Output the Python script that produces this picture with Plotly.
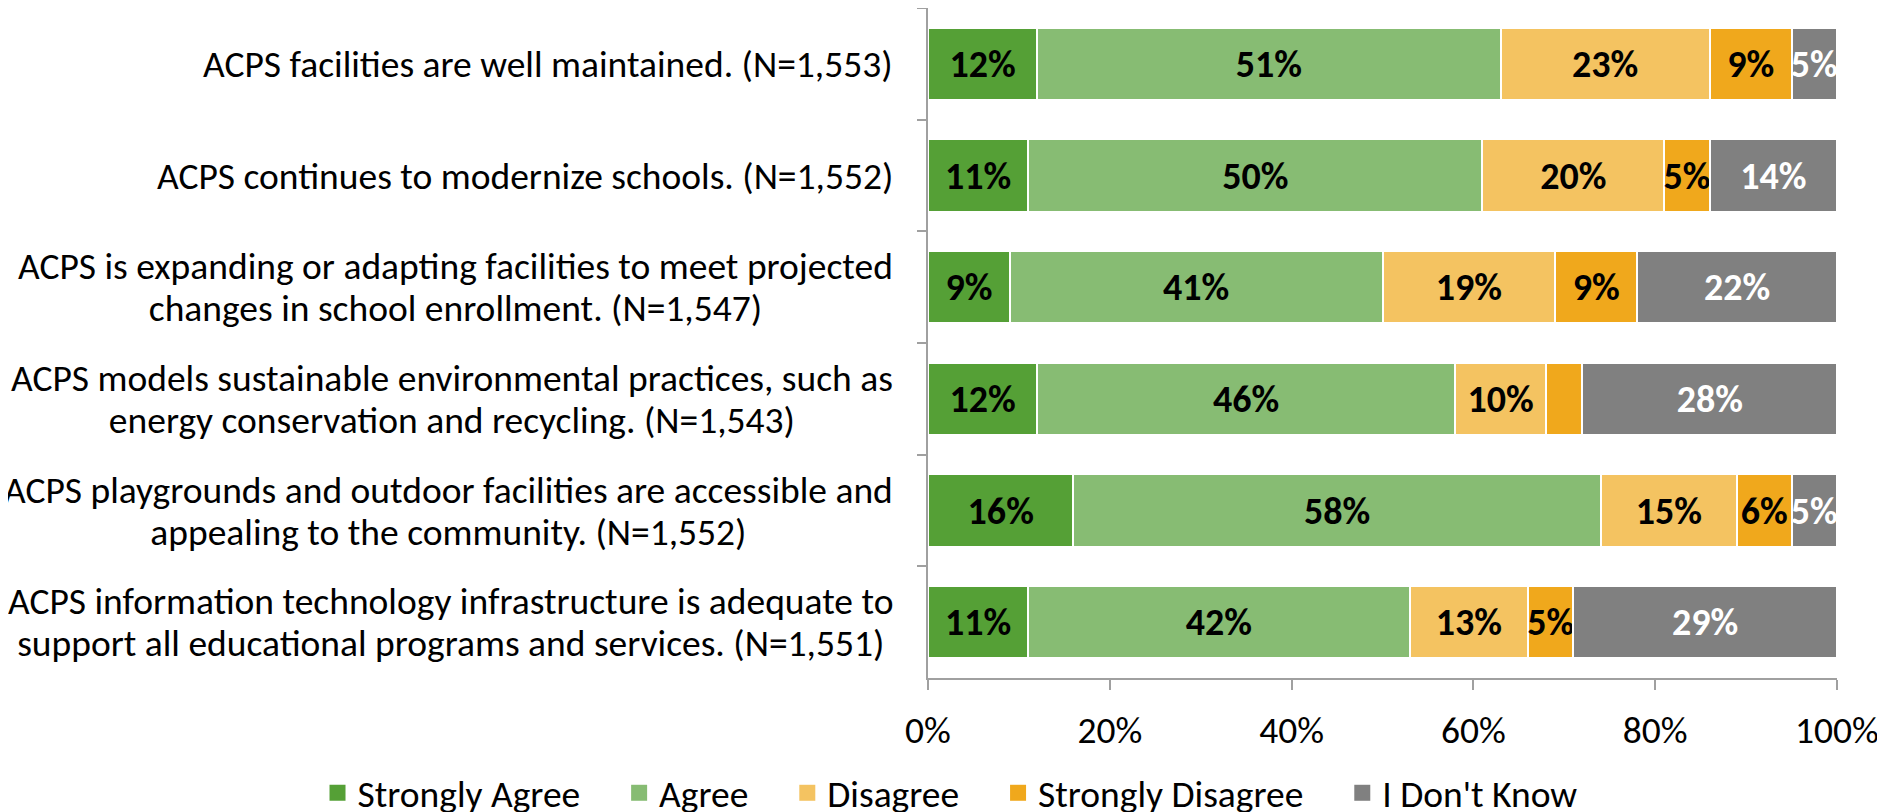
import plotly.graph_objects as go

categories = [
    "ACPS facilities are well maintained. (N=1,553)",
    "ACPS continues to modernize schools. (N=1,552)",
    "ACPS is expanding or adapting facilities to meet projected<br>changes in school enrollment. (N=1,547)",
    "ACPS models sustainable environmental practices, such as<br>energy conservation and recycling. (N=1,543)",
    "ACPS playgrounds and outdoor facilities are accessible and<br>appealing to the community. (N=1,552)",
    "ACPS information technology infrastructure is adequate to<br>support all educational programs and services. (N=1,551)",
]
series_names = ["Strongly Agree", "Agree", "Disagree", "Strongly Disagree", "I Don't Know"]
strongly_agree = [12, 11, 9, 12, 16, 11]
agree = [51, 50, 41, 46, 58, 42]
disagree = [23, 20, 19, 10, 15, 13]
strongly_disagree = [9, 5, 9, 4, 6, 5]
dont_know = [5, 14, 22, 28, 5, 29]
tick_vals = [0, 20, 40, 60, 80, 100]
tick_text = ["0%", "20%", "40%", "60%", "80%", "100%"]
# label not shown on the bar in the reference (row 4 "Strongly Disagree")
hidden_labels = {("Strongly Disagree", 3)}

series_values = [strongly_agree, agree, disagree, strongly_disagree, dont_know]
colors = ["#55A036", "#87BC73", "#F4C361", "#F0A81C", "#808080"]
label_colors = ["black", "black", "black", "black", "white"]

FONT = "Carlito, Lato, sans-serif"
FS = 37.5
PAD = "\u00a0\u00a0\u00a0\u00a0"

fig = go.Figure()
for name, vals, col, lc in zip(series_names, series_values, colors, label_colors):
    texts = ["" if (name, i) in hidden_labels else f"{v}%" for i, v in enumerate(vals)]
    fig.add_trace(go.Bar(
        name=name, y=categories, x=vals, orientation="h",
        marker=dict(color=col, line=dict(color="white", width=2)),
        text=texts, textposition="inside", insidetextanchor="middle",
        textangle=0, constraintext="none",
        textfont=dict(family=FONT, size=38, color=lc, weight="bold"),
        hoverinfo="skip", showlegend=False,
    ))

# legend entries (square swatches)
for k, (name, col) in enumerate(zip(series_names, colors)):
    label = name + (PAD if k < len(series_names) - 1 else "")
    fig.add_trace(go.Scatter(
        name=label, x=[None], y=[None], mode="markers",
        marker=dict(symbol="square", size=16, color=col, line=dict(width=0)),
        showlegend=True, hoverinfo="skip",
    ))

for c in categories:
    lines = c.split("<br>")
    txt = "<br>".join(f'<span style="font-size:{FS}px">{ln}</span>' for ln in lines)
    fig.add_annotation(
        x=0, xref="paper", y=c, yref="y", text=txt, showarrow=False,
        xanchor="right", yanchor="middle", align="center", xshift=-33,
        font=dict(family=FONT, size=32, color="black"),
    )

fig.update_layout(
    barmode="stack", bargap=0.35,
    width=1877, height=804,
    margin=dict(l=920, r=48, t=0, b=134, autoexpand=False),
    plot_bgcolor="white", paper_bgcolor="white",
    font=dict(family=FONT, size=FS, color="black"),
    showlegend=True,
    legend=dict(
        orientation="h", xref="paper", yref="paper",
        x=-0.6716, xanchor="left", y=-0.1715, yanchor="middle",
        font=dict(family=FONT, size=FS, color="black"),
        traceorder="normal", itemwidth=30, itemsizing="trace",
        bgcolor="rgba(0,0,0,0)",
    ),
)
fig.update_xaxes(
    range=[0, 100], tickvals=tick_vals, ticktext=tick_text,
    showgrid=False, zeroline=False, showline=True, linecolor="#A0A0A0", linewidth=1.5,
    ticks="outside", ticklen=10, tickcolor="#A0A0A0", tickwidth=1.5,
    tickfont=dict(family=FONT, size=FS, color="black"), ticklabelstandoff=8,
)
fig.update_yaxes(
    categoryorder="array", categoryarray=categories, autorange="reversed",
    showticklabels=False, showgrid=False, zeroline=False,
    showline=True, linecolor="#A0A0A0", linewidth=1.5,
    ticks="outside", ticklen=9, tickcolor="#A0A0A0", tickwidth=1.5, tickson="boundaries",
)

fig.write_html("out.html")
